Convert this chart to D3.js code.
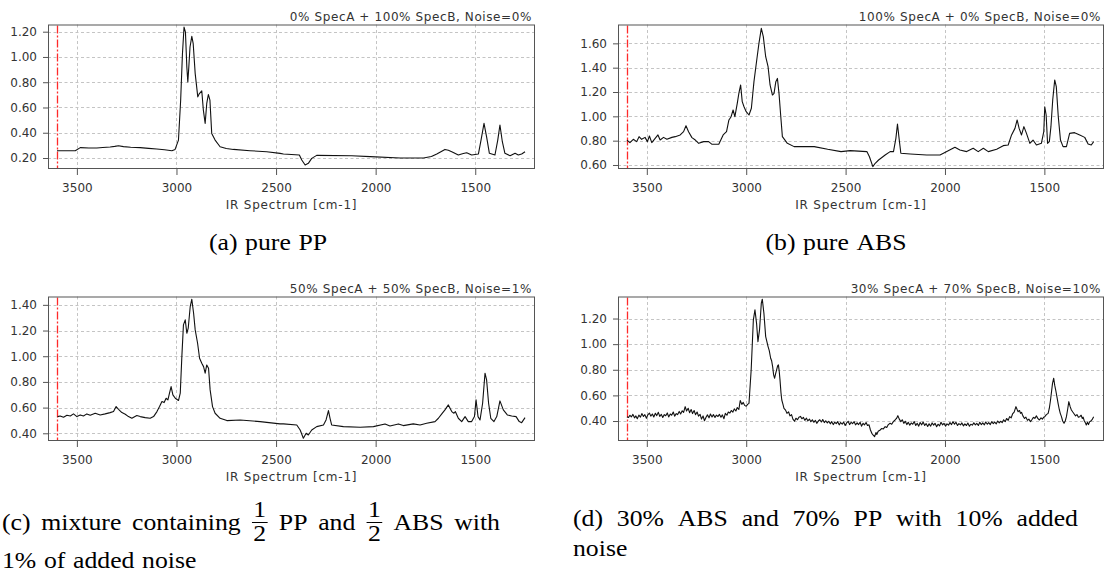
<!DOCTYPE html>
<html>
<head>
<meta charset="utf-8">
<script src="https://cdn.jsdelivr.net/npm/d3@7"></script>
<style>
  body { margin: 0; background: #fff; }
  svg { display: block; }
  .axis text { font-family: "DejaVu Sans", sans-serif; font-size: 12px; fill: #333; }
  .axis line { stroke: #555; }
  .axis path { display: none; }
  .caption text { font-family: "Liberation Serif", "Times New Roman", serif; }
</style>
</head>
<body>
<svg id="chart" width="1111" height="585"></svg>
<script>
// wavenumber ticks shared by all four panels
var waveTicks = [3500, 3000, 2500, 2000, 1500];
var markerWave = 3600;
var axisLabel = "IR Spectrum [cm-1]";

var titles = [
    "0% SpecA + 100% SpecB, Noise=0%",
    "100% SpecA + 0% SpecB, Noise=0%",
    "50% SpecA + 50% SpecB, Noise=1%",
    "30% SpecA + 70% SpecB, Noise=10%"
];

var yTicksPP = [0.2, 0.4, 0.6, 0.8, 1.0, 1.2];
var yTicksABS = [0.6, 0.8, 1.0, 1.2, 1.4, 1.6];
var yTicksMix50 = [0.4, 0.6, 0.8, 1.0, 1.2, 1.4];
var yTicksMix30 = [0.4, 0.6, 0.8, 1.0, 1.2];

// [wavenumber, absorbance]
var specPP = [[3600,0.258],[3508,0.258],[3483,0.282],[3440,0.279],[3400,0.279],[3370,0.283],[3333,0.287],[3310,0.292],[3291,0.297],[3266,0.29],[3230,0.285],[3182,0.282],[3140,0.276],[3099,0.271],[3060,0.265],[3023,0.258],[3007,0.268],[2990,0.342],[2979,0.658],[2970,1.026],[2962,1.237],[2955,1.197],[2948,0.921],[2943,0.803],[2938,0.92],[2932,1.079],[2923,1.163],[2916,1.105],[2906,0.868],[2893,0.684],[2885,0.71],[2873,0.732],[2865,0.579],[2856,0.474],[2848,0.632],[2840,0.703],[2832,0.658],[2823,0.395],[2806,0.342],[2781,0.289],[2750,0.275],[2714,0.268],[2631,0.258],[2547,0.25],[2480,0.237],[2463,0.232],[2383,0.224],[2371,0.184],[2354,0.145],[2338,0.158],[2321,0.197],[2296,0.221],[2120,0.218],[2028,0.211],[1877,0.2],[1760,0.2],[1720,0.212],[1693,0.232],[1652,0.268],[1635,0.262],[1618,0.25],[1585,0.224],[1560,0.235],[1543,0.242],[1518,0.224],[1484,0.232],[1471,0.342],[1456,0.474],[1443,0.368],[1429,0.237],[1401,0.224],[1387,0.342],[1376,0.461],[1364,0.329],[1351,0.237],[1325,0.218],[1300,0.237],[1284,0.224],[1267,0.232],[1250,0.25]];

var specABS = [[3600,0.805],[3585,0.784],[3568,0.811],[3551,0.792],[3539,0.833],[3526,0.811],[3509,0.827],[3497,0.792],[3487,0.838],[3475,0.784],[3458,0.819],[3444,0.847],[3433,0.805],[3416,0.827],[3399,0.811],[3374,0.827],[3357,0.833],[3332,0.847],[3315,0.874],[3303,0.923],[3290,0.874],[3273,0.825],[3256,0.805],[3239,0.778],[3214,0.792],[3189,0.792],[3172,0.77],[3138,0.77],[3116,0.847],[3099,0.874],[3087,0.97],[3076,0.997],[3066,1.052],[3057,0.997],[3045,1.107],[3037,1.189],[3028,1.258],[3020,1.121],[3011,1.079],[3000,1.038],[2986,1.011],[2974,1.066],[2961,1.285],[2947,1.463],[2936,1.6],[2924,1.723],[2914,1.655],[2902,1.49],[2890,1.408],[2880,1.258],[2868,1.175],[2860,1.189],[2851,1.285],[2843,1.312],[2835,1.189],[2826,0.997],[2818,0.833],[2793,0.778],[2759,0.751],[2658,0.751],[2590,0.729],[2523,0.71],[2477,0.718],[2393,0.71],[2380,0.668],[2363,0.586],[2351,0.614],[2334,0.641],[2301,0.682],[2276,0.71],[2259,0.71],[2247,0.819],[2239,0.937],[2230,0.805],[2222,0.696],[2175,0.69],[2092,0.682],[2025,0.682],[1991,0.71],[1950,0.745],[1925,0.723],[1891,0.71],[1858,0.737],[1833,0.71],[1807,0.737],[1782,0.71],[1740,0.729],[1707,0.759],[1682,0.764],[1665,0.847],[1648,0.901],[1637,0.97],[1627,0.901],[1615,0.847],[1603,0.915],[1590,0.86],[1573,0.778],[1557,0.805],[1540,0.764],[1515,0.778],[1503,0.874],[1498,1.079],[1491,1.011],[1484,0.778],[1475,0.792],[1467,0.915],[1458,1.134],[1448,1.299],[1440,1.244],[1430,0.997],[1419,0.805],[1406,0.751],[1389,0.751],[1373,0.86],[1348,0.866],[1322,0.847],[1297,0.827],[1280,0.773],[1264,0.764],[1252,0.792]];

var specMix50 = [[3597,0.53],[3584,0.535],[3567,0.525],[3550,0.54],[3533,0.535],[3517,0.551],[3500,0.53],[3483,0.543],[3467,0.535],[3450,0.551],[3433,0.54],[3408,0.556],[3383,0.543],[3358,0.551],[3333,0.561],[3316,0.569],[3303,0.608],[3291,0.587],[3274,0.561],[3257,0.548],[3241,0.53],[3224,0.517],[3199,0.538],[3182,0.53],[3157,0.522],[3132,0.517],[3115,0.53],[3098,0.569],[3085,0.608],[3073,0.647],[3062,0.639],[3052,0.673],[3043,0.66],[3035,0.712],[3027,0.764],[3018,0.699],[3006,0.673],[2990,0.655],[2981,0.712],[2973,0.997],[2965,1.244],[2956,1.283],[2948,1.179],[2941,1.218],[2931,1.387],[2923,1.444],[2914,1.335],[2906,1.205],[2894,1.101],[2884,0.984],[2873,0.945],[2864,0.919],[2856,0.868],[2848,0.932],[2839,0.906],[2831,0.738],[2819,0.608],[2806,0.556],[2781,0.517],[2747,0.499],[2680,0.504],[2580,0.491],[2480,0.473],[2463,0.473],[2396,0.465],[2379,0.426],[2363,0.361],[2349,0.4],[2338,0.387],[2321,0.426],[2296,0.452],[2262,0.465],[2249,0.504],[2237,0.577],[2229,0.517],[2221,0.465],[2162,0.452],[2078,0.447],[2011,0.452],[1953,0.473],[1928,0.457],[1886,0.473],[1861,0.46],[1811,0.473],[1777,0.465],[1744,0.478],[1702,0.491],[1685,0.517],[1668,0.551],[1652,0.582],[1635,0.621],[1618,0.569],[1607,0.556],[1600,0.569],[1585,0.517],[1568,0.491],[1551,0.53],[1535,0.491],[1518,0.491],[1504,0.53],[1496,0.66],[1486,0.53],[1476,0.504],[1463,0.634],[1451,0.868],[1443,0.816],[1433,0.634],[1422,0.517],[1406,0.491],[1392,0.53],[1376,0.652],[1359,0.582],[1339,0.543],[1317,0.535],[1295,0.53],[1279,0.491],[1267,0.483],[1250,0.522]];

var specMix30 = [[3600,0.434],[3592,0.428],[3585,0.445],[3578,0.432],[3570,0.452],[3562,0.425],[3555,0.44],[3548,0.418],[3540,0.446],[3532,0.43],[3525,0.458],[3517,0.436],[3510,0.45],[3502,0.422],[3495,0.448],[3487,0.462],[3480,0.438],[3472,0.455],[3465,0.431],[3457,0.46],[3450,0.442],[3442,0.468],[3435,0.436],[3427,0.452],[3420,0.428],[3412,0.45],[3405,0.441],[3397,0.463],[3390,0.432],[3382,0.455],[3375,0.445],[3367,0.47],[3360,0.438],[3352,0.458],[3345,0.45],[3337,0.475],[3330,0.455],[3322,0.48],[3315,0.468],[3307,0.512],[3300,0.478],[3292,0.5],[3285,0.465],[3277,0.49],[3270,0.458],[3262,0.482],[3255,0.45],[3247,0.47],[3240,0.438],[3232,0.452],[3225,0.415],[3217,0.44],[3210,0.402],[3202,0.43],[3195,0.448],[3187,0.425],[3180,0.455],[3172,0.432],[3165,0.45],[3157,0.428],[3150,0.446],[3142,0.435],[3135,0.452],[3127,0.43],[3120,0.448],[3112,0.418],[3105,0.46],[3097,0.445],[3090,0.47],[3082,0.462],[3075,0.482],[3067,0.47],[3060,0.495],[3052,0.478],[3045,0.505],[3037,0.49],[3030,0.56],[3022,0.53],[3015,0.545],[3008,0.522],[3000,0.515],[2993,0.53],[2986,0.538],[2975,0.8],[2964,1.19],[2956,1.268],[2948,1.164],[2941,1.02],[2933,1.111],[2924,1.32],[2919,1.351],[2911,1.242],[2902,1.059],[2896,1.02],[2890,0.981],[2884,0.95],[2877,0.89],[2872,0.87],[2867,0.825],[2862,0.76],[2857,0.734],[2852,0.77],[2847,0.799],[2842,0.83],[2838,0.838],[2834,0.79],[2830,0.721],[2825,0.62],[2821,0.564],[2815,0.53],[2810,0.499],[2802,0.485],[2795,0.46],[2787,0.472],[2780,0.44],[2772,0.45],[2765,0.415],[2757,0.398],[2750,0.422],[2742,0.41],[2735,0.43],[2727,0.436],[2720,0.418],[2712,0.428],[2705,0.405],[2697,0.422],[2690,0.402],[2682,0.415],[2675,0.395],[2667,0.41],[2660,0.39],[2652,0.405],[2645,0.382],[2637,0.4],[2630,0.41],[2622,0.392],[2615,0.412],[2607,0.388],[2600,0.402],[2592,0.385],[2585,0.398],[2577,0.378],[2570,0.395],[2562,0.372],[2555,0.39],[2547,0.38],[2540,0.395],[2532,0.37],[2525,0.388],[2517,0.375],[2510,0.392],[2502,0.365],[2495,0.385],[2487,0.398],[2480,0.372],[2472,0.39],[2465,0.38],[2457,0.395],[2450,0.37],[2442,0.386],[2435,0.372],[2427,0.39],[2420,0.36],[2412,0.382],[2405,0.37],[2397,0.388],[2390,0.365],[2382,0.37],[2375,0.33],[2368,0.304],[2361,0.29],[2354,0.278],[2347,0.31],[2343,0.295],[2336,0.32],[2326,0.33],[2318,0.342],[2310,0.338],[2301,0.356],[2293,0.35],[2285,0.372],[2276,0.382],[2268,0.375],[2260,0.395],[2251,0.408],[2244,0.42],[2237,0.442],[2230,0.415],[2222,0.395],[2215,0.41],[2207,0.382],[2200,0.398],[2192,0.372],[2185,0.39],[2177,0.368],[2170,0.385],[2162,0.375],[2155,0.396],[2147,0.365],[2140,0.382],[2132,0.36],[2125,0.388],[2117,0.37],[2110,0.392],[2102,0.365],[2095,0.38],[2087,0.358],[2080,0.378],[2072,0.36],[2065,0.385],[2057,0.368],[2050,0.382],[2042,0.355],[2035,0.375],[2027,0.362],[2020,0.39],[2012,0.37],[2005,0.382],[1997,0.36],[1990,0.378],[1982,0.368],[1975,0.388],[1967,0.372],[1960,0.395],[1952,0.375],[1945,0.39],[1937,0.365],[1930,0.38],[1922,0.37],[1915,0.385],[1907,0.362],[1900,0.378],[1892,0.365],[1885,0.384],[1877,0.36],[1870,0.375],[1862,0.368],[1855,0.386],[1847,0.37],[1840,0.382],[1832,0.365],[1825,0.39],[1817,0.372],[1810,0.385],[1802,0.37],[1795,0.392],[1787,0.375],[1780,0.388],[1772,0.372],[1765,0.395],[1757,0.38],[1750,0.392],[1742,0.378],[1735,0.4],[1727,0.385],[1720,0.398],[1712,0.388],[1705,0.41],[1697,0.395],[1690,0.42],[1682,0.405],[1675,0.434],[1667,0.425],[1660,0.455],[1652,0.47],[1643,0.512],[1637,0.49],[1632,0.473],[1625,0.482],[1620,0.46],[1615,0.468],[1608,0.44],[1600,0.42],[1593,0.43],[1585,0.405],[1578,0.415],[1570,0.395],[1563,0.41],[1555,0.428],[1548,0.421],[1540,0.44],[1532,0.418],[1525,0.408],[1517,0.425],[1510,0.415],[1503,0.43],[1498,0.434],[1490,0.45],[1481,0.46],[1475,0.5],[1469,0.564],[1459,0.694],[1453,0.734],[1448,0.68],[1443,0.642],[1437,0.59],[1431,0.538],[1425,0.49],[1420,0.46],[1414,0.434],[1408,0.4],[1401,0.382],[1395,0.4],[1389,0.434],[1383,0.49],[1377,0.551],[1370,0.51],[1364,0.486],[1357,0.47],[1350,0.455],[1343,0.44],[1336,0.45],[1329,0.43],[1322,0.434],[1315,0.445],[1309,0.42],[1305,0.43],[1299,0.4],[1293,0.385],[1289,0.369],[1283,0.39],[1278,0.372],[1272,0.395],[1266,0.4],[1260,0.41],[1252,0.434]];

var captionA = ["(a)", "pure", "PP"];
var captionB = ["(b)", "pure", "ABS"];
var captionC1 = ["(c)", "mixture", "containing", {num: "1", den: "2"}, "PP", "and", {num: "1", den: "2"}, "ABS", "with"];
var captionC2 = ["1%", "of", "added", "noise"];
var captionD1 = ["(d)", "30%", "ABS", "and", "70%", "PP", "with", "10%", "added"];
var captionD2 = ["noise"];

var svg = d3.select("#chart");

var panels = [
    {data: specPP,    title: titles[0], yTicks: yTicksPP,    yDomain: [0.113, 1.257], left: 48,  right: 535,  top: 24.5,  bottom: 169},
    {data: specABS,   title: titles[1], yTicks: yTicksABS,   yDomain: [0.567, 1.755], left: 618, right: 1104, top: 24.5,  bottom: 169},
    {data: specMix50, title: titles[2], yTicks: yTicksMix50, yDomain: [0.34, 1.465],  left: 48,  right: 535,  top: 296.5, bottom: 441},
    {data: specMix30, title: titles[3], yTicks: yTicksMix30, yDomain: [0.244, 1.372], left: 618, right: 1104, top: 296.5, bottom: 441}
];

panels.forEach(drawPanel);

function drawPanel(p, i) {
    var g = svg.append("g");
    var x = d3.scaleLinear().domain([3645, 1200]).range([p.left, p.right]);
    var y = d3.scaleLinear().domain(p.yDomain).range([p.bottom, p.top]);

    // dashed grid
    g.selectAll(".vgrid").data(waveTicks).enter().append("line")
        .attr("x1", function(d){ return Math.round(x(d)) + 0.5; })
        .attr("x2", function(d){ return Math.round(x(d)) + 0.5; })
        .attr("y1", p.top).attr("y2", p.bottom)
        .attr("stroke", "#c4c4c4").attr("stroke-dasharray", "3,2.5");
    g.selectAll(".hgrid").data(p.yTicks).enter().append("line")
        .attr("x1", p.left).attr("x2", p.right)
        .attr("y1", function(d){ return Math.round(y(d)) + 0.5; })
        .attr("y2", function(d){ return Math.round(y(d)) + 0.5; })
        .attr("stroke", "#c4c4c4").attr("stroke-dasharray", "3,2.5");

    // red marker
    g.append("line")
        .attr("x1", Math.round(x(markerWave)) + 0.5).attr("x2", Math.round(x(markerWave)) + 0.5)
        .attr("y1", p.top + 1).attr("y2", p.bottom - 1)
        .attr("stroke", "#ff2a2a").attr("stroke-width", 1.3)
        .attr("stroke-dasharray", "8,2,2,2");

    var clipId = "clip" + i;
    g.append("clipPath").attr("id", clipId).append("rect")
        .attr("x", p.left).attr("y", p.top)
        .attr("width", p.right - p.left).attr("height", p.bottom - p.top);

    var line = d3.line()
        .x(function(d){ return x(d[0]); })
        .y(function(d){ return y(d[1]); });

    g.append("path")
        .datum(p.data)
        .attr("clip-path", "url(#" + clipId + ")")
        .attr("d", line)
        .attr("fill", "none")
        .attr("stroke", "#111")
        .attr("stroke-width", 1.1)
        .attr("stroke-linejoin", "round");

    // frame
    g.append("rect")
        .attr("x", p.left + 0.5).attr("y", p.top + 0.5)
        .attr("width", p.right - p.left - 1).attr("height", p.bottom - p.top - 1)
        .attr("fill", "none").attr("stroke", "#555");

    g.append("g")
        .attr("class", "axis")
        .attr("transform", "translate(0," + p.bottom + ")")
        .call(d3.axisBottom(x).tickValues(waveTicks).tickSize(6).tickPadding(8).tickFormat(d3.format("d")));

    g.append("g")
        .attr("class", "axis")
        .attr("transform", "translate(" + p.left + ",0)")
        .call(d3.axisLeft(y).tickValues(p.yTicks).tickSize(5).tickPadding(6).tickFormat(d3.format(".2f")));

    g.append("text")
        .attr("x", p.right - 3).attr("y", p.top - 4)
        .attr("text-anchor", "end")
        .style("font-family", "DejaVu Sans, sans-serif").style("font-size", "12px")
        .style("letter-spacing", "0.6px").style("fill", "#333")
        .text(p.title);

    g.append("text")
        .attr("x", (p.left + p.right) / 2).attr("y", p.bottom + 40)
        .attr("text-anchor", "middle")
        .style("font-family", "DejaVu Sans, sans-serif").style("font-size", "12px")
        .style("letter-spacing", "0.8px").style("fill", "#333")
        .text(axisLabel);
}

// captions, serif, a bit widened to look like the LaTeX font
var capK = 1.12, capSize = 23;

function captionLine(parts, x0, y, opts) {
    opts = opts || {};
    var g = svg.append("g")
        .attr("class", "caption")
        .style("font-size", capSize + "px")
        .style("fill", "#000");
    var items = parts.map(function (p) {
        var el = g.append("g"), w;
        if (typeof p === "string") {
            w = el.append("text").text(p).node().getComputedTextLength();
        } else {
            w = 15;
            el.append("text").attr("x", w / 2).attr("y", -13).attr("text-anchor", "middle").text(p.num);
            el.append("line").attr("x1", 0.5).attr("x2", w - 0.5).attr("y1", -7.5).attr("y2", -7.5)
                .attr("stroke", "#000").attr("stroke-width", 1);
            el.append("text").attr("x", w / 2).attr("y", 11).attr("text-anchor", "middle").text(p.den);
        }
        return {el: el, w: w * capK};
    });
    var total = d3.sum(items, function(d){ return d.w; });
    var gap = opts.to ? (opts.to - x0 - total) / (items.length - 1) : capSize * 0.33;
    var width = total + gap * (items.length - 1);
    var start = opts.center ? x0 - width / 2 : x0;
    var xx = start;
    items.forEach(function (it) {
        it.el.attr("transform", "translate(" + xx + "," + y + ") scale(" + capK + ",1)");
        xx += it.w + gap;
    });
}

captionLine(captionA, 268, 250, {center: true});
captionLine(captionB, 836, 250, {center: true});
captionLine(captionC1, 2, 530, {to: 500});
captionLine(captionC2, 2, 568);
captionLine(captionD1, 573, 526, {to: 1078});
captionLine(captionD2, 573, 556);
</script>
</body>
</html>
